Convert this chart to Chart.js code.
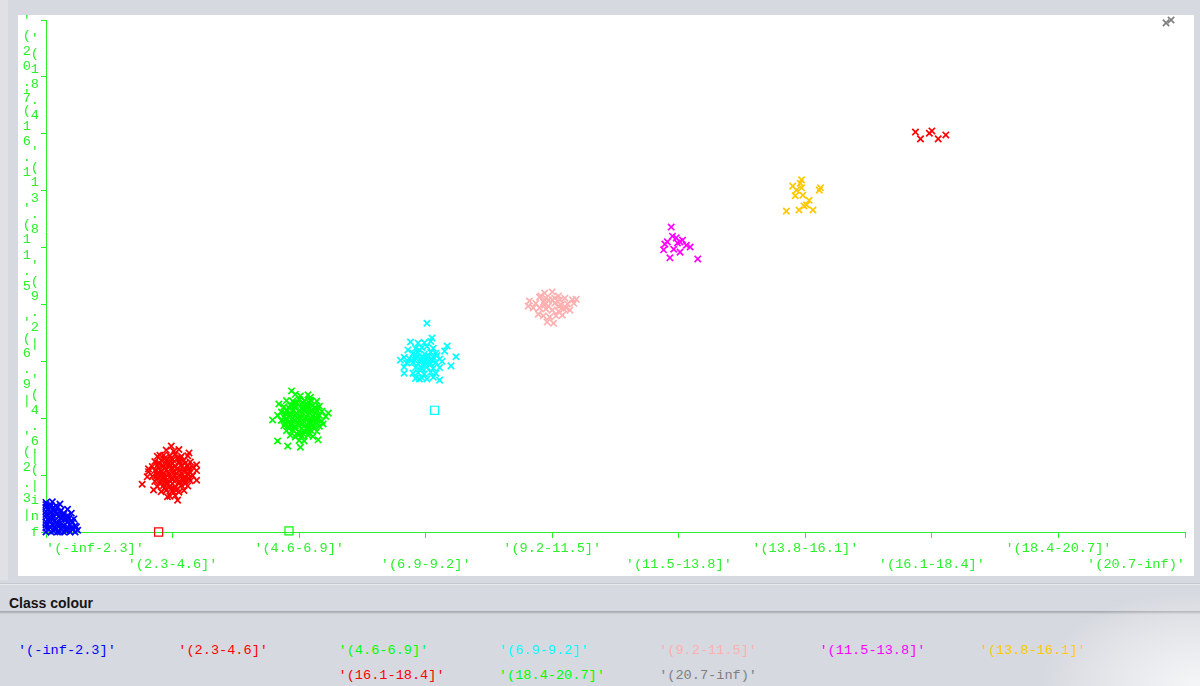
<!DOCTYPE html>
<html>
<head>
<meta charset="utf-8">
<title>Class colour scatter</title>
<script src="https://cdn.jsdelivr.net/npm/chart.js@4.4.1/dist/chart.umd.min.js"></script>
<style>
  html, body { margin: 0; padding: 0; }
  body {
    width: 1200px; height: 686px; position: relative; overflow: hidden;
    background: #d6d9df; font-family: "Liberation Sans", Arial, sans-serif;
  }
  #edge { position: absolute; left: 0; top: 0; width: 8px; height: 580px; background: #dfe1e5; }
  #plotPanel { position: absolute; left: 18px; top: 15px; width: 1176px; height: 561px; background: #ffffff; }
  #chartBox { position: absolute; left: 0; top: 0; width: 1200px; height: 580px; }
  #sep1 { position: absolute; left: 0; top: 583px; width: 1200px; height: 1px; background: #c5c8cd; }
  #sep1b { position: absolute; left: 0; top: 584px; width: 1200px; height: 1px; background: #e6e8eb; }
  #legendTitle {
    position: absolute; left: 9px; top: 594px;
    font: bold 14px "Liberation Sans", Arial, sans-serif; line-height: 18px; color: #141414;
  }
  #sep2 {
    position: absolute; left: 0; top: 611px; width: 1200px; height: 4px;
    background: linear-gradient(#9ea1a6, #b9bcc1 40%, #d3d6db 80%, #d8dbe0);
  }
  #legendBox {
    position: absolute; left: 13px; top: 638px; width: 1124px;
    display: flex; flex-wrap: wrap; justify-content: center;
  }
  #legendBox .item {
    box-sizing: border-box; width: 160.3px; padding-left: 4px; height: 25px;
    font: 13.6px "Liberation Mono", monospace; line-height: 25px; white-space: pre;
  }
  #haze {
    position: absolute; left: 1040px; top: 590px; width: 260px; height: 170px;
    background: radial-gradient(ellipse at 60% 55%, rgba(255,255,255,0.75), rgba(255,255,255,0.35) 40%, rgba(255,255,255,0) 70%);
  }
</style>
</head>
<body>
<div id="edge"></div>
<div id="plotPanel"></div>
<div id="chartBox"><canvas id="plot" width="1200" height="580"></canvas></div>
<div id="sep1"></div><div id="sep1b"></div>
<div id="legendTitle">Class colour</div>
<div id="sep2"></div>
<div id="legendBox"></div>
<div id="haze"></div>
<script>
// Class intervals (shared by both axes and the legend)
const classLabels = [
  "'(-inf-2.3]'", "'(2.3-4.6]'", "'(4.6-6.9]'", "'(6.9-9.2]'", "'(9.2-11.5]'",
  "'(11.5-13.8]'", "'(13.8-16.1]'", "'(16.1-18.4]'", "'(18.4-20.7]'", "'(20.7-inf)'"
];
const classColors = [
  '#0000ff', '#ff0000', '#00ff00', '#00ffff', '#ffafaf',
  '#ff00ff', '#ffc800', '#ff0000', '#00ff00', '#808080'
];
const axisColor = '#2cf02c';

// Jittered instances per class, flat [x, y, x, y, ...] in class-index units
const class0Points = [
  0,0, 0.04,0, 0.09,0, 0.14,0, 0.19,0, 0.23,0, 0.11,0,
  0.02,0.05, 0.07,0.05, 0.12,0.06, 0.16,0.05, 0.21,0.04,
  0,0.13, 0.05,0.13, 0.09,0.14, 0.14,0.12, 0.19,0.13, 0.23,0.11,
  0.02,0.22, 0.07,0.21, 0.12,0.23, 0.16,0.22, 0.20,0.20,
  0,0.31, 0.05,0.30, 0.09,0.32, 0.14,0.31, 0.17,0.29,
  0.02,0.40, 0.07,0.39, 0.12,0.38,
  0,0.48, 0.04,0.47, 0.08,0.46,
  0,0.07, 0,0.18, 0,0.26, 0,0.36, 0,0.43, 0,0.52,
  0.03,0.09, 0.10,0.09, 0.17,0.09, 0.05,0.26, 0.10,0.27, 0.15,0.26, 0.04,0.35, 0.09,0.43,
  0.06,0.02, 0.16,0.02, 0.07,0.09, 0.13,0.09, 0.20,0.08, 0.03,0.17, 0.08,0.17, 0.12,0.17,
  0.17,0.17, 0.21,0.17, 0.03,0.26, 0.13,0.27, 0.18,0.24, 0.07,0.35, 0.11,0.35, 0.03,0.44, 0.06,0.43,
  0.22,0.23, 0.17,0.40, 0.11,0.49, 0.05,0.53, 0.24,0.09, 0.20,0.33, 0.25,0.03
];
const class1Points = [
  0.95,1.44, 1.01,1.42, 1.05,1.45,
  0.88,1.33, 0.93,1.35, 0.98,1.34, 1.02,1.36, 1.07,1.33, 1.12,1.34,
  0.86,1.24, 0.91,1.26, 0.95,1.25, 1.00,1.27, 1.05,1.24, 1.09,1.26, 1.14,1.23,
  0.84,1.15, 0.88,1.17, 0.93,1.16, 0.98,1.18, 1.02,1.15, 1.07,1.17, 1.12,1.16, 1.16,1.14,
  0.81,1.06, 0.86,1.08, 0.91,1.07, 0.95,1.09, 1.00,1.06, 1.05,1.08, 1.09,1.07, 1.14,1.05, 1.19,1.08,
  0.84,0.98, 0.88,1.00, 0.93,0.99, 0.98,0.97, 1.02,1.00, 1.07,0.98, 1.12,1.01, 1.16,0.99,
  0.86,0.89, 0.91,0.91, 0.95,0.90, 1.00,0.92, 1.05,0.89, 1.09,0.91, 1.14,0.90,
  0.88,0.80, 0.93,0.82, 0.98,0.81, 1.02,0.79, 1.07,0.82, 1.12,0.81,
  0.91,0.71, 0.95,0.73, 1.00,0.72, 1.05,0.70, 1.09,0.73,
  0.98,0.63, 1.02,0.64,
  0.97,1.21, 1.04,1.11, 0.90,1.03, 1.10,0.95, 0.96,0.85, 1.06,1.30, 0.89,1.20, 1.13,1.11, 1.01,0.76, 0.93,0.94,
  0.88,1.03, 0.93,1.03, 0.97,1.03, 1.03,1.03, 1.07,1.03, 1.12,1.03,
  0.89,1.12, 0.94,1.12, 0.99,1.12, 1.04,1.12, 1.09,1.12, 1.13,1.12,
  0.88,0.94, 0.94,0.94, 0.99,0.94, 1.03,0.94, 1.08,0.94, 1.13,0.94,
  0.90,1.21, 0.95,1.21, 1.00,1.21, 1.05,1.21, 1.10,1.21,
  0.90,0.85, 0.95,0.85, 1.00,0.85, 1.05,0.85, 1.10,0.85,
  0.94,1.30, 0.99,1.30, 1.04,1.30, 0.94,0.76, 0.99,0.76, 1.04,0.76,
  0.99,1.51, 0.76,0.84, 0.81,1.11, 1.19,1.18, 1.13,1.39, 1.04,0.56, 0.96,0.62, 0.85,0.74, 1.19,0.91, 0.90,1.35, 0.80,0.97
];
const class2Points = [
  2.07,2.41, 2.01,2.39, 1.97,2.42,
  2.14,2.30, 2.09,2.32, 2.04,2.31, 2.00,2.33, 1.95,2.30, 1.90,2.31,
  2.16,2.21, 2.11,2.23, 2.07,2.22, 2.02,2.24, 1.97,2.21, 1.93,2.23, 1.88,2.20,
  2.18,2.12, 2.14,2.14, 2.09,2.13, 2.04,2.15, 2.00,2.12, 1.95,2.14, 1.90,2.13, 1.86,2.11,
  2.21,2.03, 2.16,2.05, 2.11,2.04, 2.07,2.06, 2.02,2.03, 1.97,2.05, 1.93,2.04, 1.88,2.02, 1.83,2.05,
  2.18,1.95, 2.14,1.97, 2.09,1.96, 2.04,1.94, 2.00,1.97, 1.95,1.95, 1.90,1.98, 1.86,1.96,
  2.16,1.86, 2.11,1.88, 2.07,1.87, 2.02,1.89, 1.97,1.86, 1.93,1.88, 1.88,1.87,
  2.14,1.77, 2.09,1.79, 2.04,1.78, 2.00,1.76, 1.95,1.79, 1.90,1.78,
  2.11,1.68, 2.07,1.70, 2.02,1.69, 1.97,1.67, 1.93,1.70,
  2.04,1.60, 2.00,1.61,
  2.05,2.18, 1.98,2.08, 2.12,2.00, 1.92,1.92, 2.06,1.82, 1.96,2.27, 2.13,2.17, 1.89,2.08, 2.01,1.73, 2.09,1.91,
  2.14,2.00, 2.09,2.00, 2.05,2.00, 1.99,2.00, 1.95,2.00, 1.90,2.00,
  2.13,2.09, 2.08,2.09, 2.03,2.09, 1.98,2.09, 1.93,2.09, 1.89,2.09,
  2.14,1.91, 2.08,1.91, 2.03,1.91, 1.99,1.91, 1.94,1.91, 1.89,1.91,
  2.12,2.18, 2.07,2.18, 2.02,2.18, 1.97,2.18, 1.92,2.18,
  2.12,1.82, 2.07,1.82, 2.02,1.82, 1.97,1.82, 1.92,1.82,
  2.08,2.27, 2.03,2.27, 1.98,2.27, 2.08,1.73, 2.03,1.73, 1.98,1.73,
  1.94,2.48, 1.83,1.60, 1.91,1.51, 2.19,1.90, 2.23,2.09, 1.84,2.25, 2.09,2.37, 2.15,1.62, 2.01,1.49, 1.79,1.97
];
const class3Points = [
  2.92,2.70, 2.97,2.71, 3.01,2.69, 3.06,2.72,
  2.90,2.79, 2.94,2.80, 2.99,2.78, 3.04,2.81, 3.08,2.79,
  2.83,2.90, 2.92,2.89, 2.97,2.87, 3.01,2.90, 3.06,2.88, 3.11,2.89,
  2.85,2.97, 2.90,2.98, 2.94,2.96, 2.99,2.99, 3.04,2.97, 3.08,2.98, 3.13,3.00,
  2.83,3.07, 2.87,3.05, 2.92,3.06, 2.97,3.08, 3.01,3.05, 3.06,3.07, 3.11,3.04,
  2.90,3.14, 2.94,3.15, 2.99,3.13, 3.04,3.16, 3.08,3.14,
  2.92,3.23, 2.97,3.24, 3.01,3.26, 3.06,3.23,
  2.94,3.32, 2.99,3.33, 3.04,3.35,
  2.96,2.84, 3.03,2.94, 2.89,3.02, 3.09,3.10, 2.95,3.20, 2.92,3.11,
  2.96,3.02, 3.01,3.01, 3.05,3.02, 2.98,2.93, 3.02,3.10, 2.94,3.08,
  3.01,3.67, 2.83,2.79, 3.20,2.92, 3.17,3.27, 2.88,3.34, 3.11,2.67, 2.95,2.69, 3.24,3.08,
  2.80,3.02, 3.05,3.41, 3.15,3.18, 2.86,3.20
];
const class4Points = [
  3.90,4.13, 3.94,4.20, 4.00,4.22, 4.05,4.15, 4.10,4.11, 4.16,4.08, 4.19,4.09,
  3.82,4.06, 3.87,4.02, 3.93,4.04, 3.97,4.08, 4.02,4.02, 4.07,3.99, 4.12,4.01, 4.17,4.02,
  3.85,3.94, 3.90,3.94, 3.95,3.92, 4.00,3.90, 4.05,3.88, 4.09,3.92, 4.14,3.90,
  3.89,3.83, 3.93,3.80, 3.98,3.78, 4.03,3.80, 4.08,3.81,
  3.96,3.69, 4.01,3.67, 3.91,4.15, 4.11,3.94, 3.81,3.97, 4.06,4.08, 3.97,3.97, 4.02,4.11,
  3.94,3.99, 4.05,3.97, 4.00,4.08, 3.95,4.11
];
const class5Points = [
  4.94,5.36, 4.95,5.20, 4.98,5.17, 4.91,5.10, 4.99,5.08, 5.03,5.13, 5.06,5.04,
  4.96,4.97, 4.88,4.96, 5.01,4.92, 4.93,4.82, 5.09,5.01, 5.15,4.80, 4.89,5.06, 5.01,5.10
];
const class6Points = [
  5.97,6.19, 5.96,6.13, 5.90,6.08, 5.97,6.05, 5.93,6.01, 6.12,6.05, 6.11,6.01,
  5.98,5.92, 5.92,5.91, 6.03,5.83, 6.01,5.75, 5.99,5.73, 6.06,5.66, 5.85,5.64, 5.95,5.66
];
const class7Points = [
  6.87,7.03, 6.91,6.91, 6.98,7.01, 7.00,7.05, 7.05,6.91, 7.11,6.98
];
const class8Points = [];
const class9Points = [
  8.85,8.95, 8.89,9.00
];
const classPoints = [
  class0Points, class1Points, class2Points, class3Points, class4Points,
  class5Points, class6Points, class7Points, class8Points, class9Points
];

// Misclassified instances: x, y and the class that colours each square
const missedX = [0.89, 1.92, 3.07];
const missedY = [0.00, 0.02, 2.14];
const missedClass = [1, 2, 3];

function toPoints(flat) {
  const pts = [];
  for (let i = 0; i < flat.length; i += 2) pts.push({ x: flat[i], y: flat[i + 1] });
  return pts;
}

// Y axis labels are written top-to-bottom, one glyph per line, in two staggered columns
function verticalLabel(i) {
  const glyphs = Array.from(classLabels[i].slice(0, 6)).map(c => (c === '-' ? '|' : c));
  const pad = i % 2 === 1 ? ' ' : '';
  let lines = glyphs.map(c => c + pad);
  const blank = ['', '', '', '', ''];
  if (i === 0) lines = lines.concat(blank);
  if (i === classLabels.length - 1) lines = blank.concat(lines);
  return lines;
}

function horizontalLabel(i) {
  return i % 2 === 0 ? [classLabels[i]] : ['', classLabels[i]];
}

const datasets = classPoints.map((flat, i) => ({
  label: classLabels[i],
  data: toPoints(flat),
  pointStyle: 'crossRot',
  pointRadius: 4.5,
  pointBorderWidth: 1.7,
  borderColor: classColors[i],
  backgroundColor: classColors[i],
  showLine: false,
  clip: 10
}));

datasets.push({
  label: 'misclassified',
  data: missedX.map((x, k) => ({ x, y: missedY[k] })),
  pointStyle: 'rect',
  pointRadius: 5.7,
  pointBorderWidth: 1.2,
  borderColor: missedClass.map(c => classColors[c]),
  backgroundColor: 'rgba(0,0,0,0)',
  showLine: false,
  clip: 10
});

const tickFont = { family: '"Liberation Mono", monospace', size: 13.6, lineHeight: 1.147 };

const chart = new Chart(document.getElementById('plot'), {
  type: 'scatter',
  data: { datasets },
  options: {
    responsive: false,
    animation: false,
    events: [],
    layout: { padding: { left: 18, top: 20, right: 15, bottom: 4 } },
    plugins: { legend: { display: false }, tooltip: { enabled: false } },
    scales: {
      x: {
        type: 'linear', min: 0, max: classLabels.length - 1,
        border: { color: axisColor, width: 1 },
        grid: { drawOnChartArea: false, color: axisColor, tickLength: 6, tickWidth: 1 },
        ticks: {
          stepSize: 1, autoSkip: false, maxRotation: 0, minRotation: 0,
          align: 'inner', padding: 3, color: axisColor, font: tickFont,
          callback: (v) => Number.isInteger(v) ? horizontalLabel(v) : ''
        },
        afterFit(scale) { scale.height = 44; scale.paddingLeft = 0; scale.paddingRight = 0; }
      },
      y: {
        type: 'linear', min: 0, max: classLabels.length - 1,
        border: { color: axisColor, width: 1 },
        grid: { drawOnChartArea: false, color: axisColor, tickLength: 5, tickWidth: 1 },
        ticks: {
          stepSize: 1, autoSkip: false, padding: 2, color: axisColor, font: tickFont,
          callback: (v) => Number.isInteger(v) ? verticalLabel(v) : ''
        },
        afterFit(scale) { scale.width = 28; scale.paddingTop = 0; scale.paddingBottom = 0; }
      }
    }
  }
});

// Class colour legend built from the class datasets
const legendBox = document.getElementById('legendBox');
chart.data.datasets.slice(0, classLabels.length).forEach(ds => {
  const item = document.createElement('div');
  item.className = 'item';
  item.textContent = ds.label;
  item.style.color = ds.borderColor;
  legendBox.appendChild(item);
});
</script>
</body>
</html>
